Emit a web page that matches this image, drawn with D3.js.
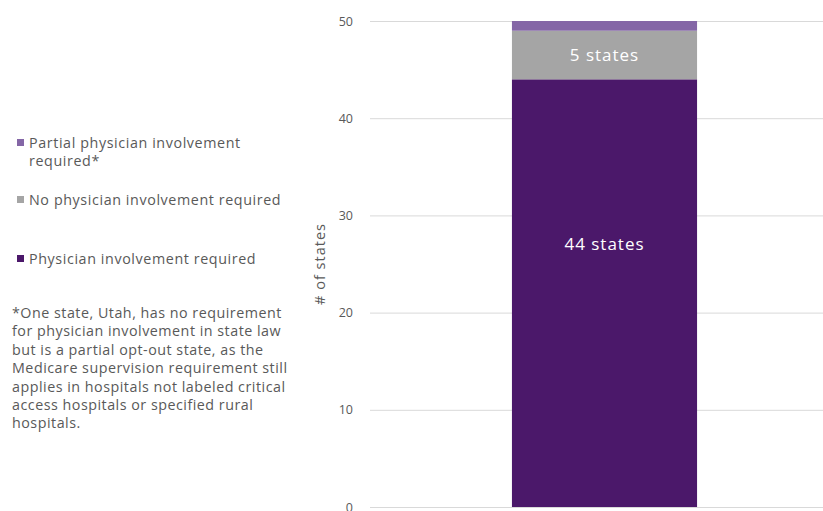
<!DOCTYPE html>
<html>
<head>
<meta charset="utf-8">
<script src="https://cdn.jsdelivr.net/npm/d3@7/dist/d3.min.js"></script>
<style>
  html, body { margin: 0; padding: 0; background: #fff; }
  svg { display: block; font-family: "Open Sans", Lato, sans-serif; }
</style>
</head>
<body>
<svg id="chart" width="823" height="511"></svg>
<script>
// Number of states by physician-involvement requirement (stacked, bottom to top)
const categories = ["All states"];
const seriesNames = ["Physician involvement required", "No physician involvement required", "Partial physician involvement required*"];
const seriesValues = [44, 5, 1];
const seriesLabels = ["44 states", "5 states", ""];
const seriesColors = ["#4b186a", "#a5a5a5", "#8466a6"];
const yTicks = [0, 10, 20, 30, 40, 50];
const legendOrder = [2, 1, 0];
const legendLines = [["Partial physician involvement", "required*"], ["No physician involvement required"], ["Physician involvement required"]];
const footnote = [
  "*One state, Utah, has no requirement",
  "for physician involvement in state law",
  "but is a partial opt-out state, as the",
  "Medicare supervision requirement still",
  "applies in hospitals not labeled critical",
  "access hospitals or specified rural",
  "hospitals."
];

const svg = d3.select("#chart");
const textColor = "#595959";

const y = d3.scaleLinear().domain([0, 50]).range([507, 21]);
const x = d3.scaleBand().domain(categories).range([370, 839]).paddingInner(0.434).paddingOuter(0.434);

// gridlines + tick labels
const yAxis = d3.axisLeft(y).tickValues(yTicks).tickSize(-(823 - 370)).tickPadding(17);
const gAxis = svg.append("g").attr("transform", "translate(370,0)").call(yAxis);
gAxis.select(".domain").remove();
gAxis.selectAll(".tick line").attr("stroke", "#d9d9d9").attr("stroke-width", 1);
gAxis.selectAll(".tick text").attr("fill", textColor).style("font-size", "12.5px").style("font-family", "\"Open Sans\", sans-serif");

// axis title
svg.append("text")
  .attr("transform", "translate(320,264) rotate(-90)")
  .attr("text-anchor", "middle")
  .attr("dy", "0.35em")
  .attr("fill", textColor)
  .style("font-size", "14.5px")
  .style("letter-spacing", "1px")
  .text("# of states");

// stacked segments
let stacked = [];
let acc = 0;
seriesValues.forEach((v, i) => { stacked.push({ i, y0: acc, y1: acc + v }); acc += v; });

const gBars = svg.append("g");
gBars.selectAll("rect")
  .data(stacked)
  .join("rect")
  .attr("x", x(categories[0]))
  .attr("width", x.bandwidth())
  .attr("y", d => y(d.y1))
  .attr("height", d => y(d.y0) - y(d.y1))
  .attr("fill", d => seriesColors[d.i]);

gBars.selectAll("text")
  .data(stacked.filter(d => seriesLabels[d.i]))
  .join("text")
  .attr("x", x(categories[0]) + x.bandwidth() / 2)
  .attr("y", d => d.i === 0 ? 244 : y((d.y0 + d.y1) / 2))
  .attr("dy", "0.35em")
  .attr("text-anchor", "middle")
  .attr("fill", "#ffffff")
  .style("font-size", "17px")
  .style("letter-spacing", "1px")
  .text(d => seriesLabels[d.i]);

// legend
const legendY = [143, 200, 259];
const gLeg = svg.append("g");
legendOrder.forEach((si, k) => {
  const ly = legendY[k];
  gLeg.append("rect")
    .attr("x", 17).attr("y", ly - 4).attr("width", 7).attr("height", 7)
    .attr("fill", seriesColors[si]);
  legendLines[k].forEach((line, j) => {
    gLeg.append("text")
      .attr("x", 29).attr("y", ly + j * 18)
      .attr("dy", "0.35em")
      .attr("fill", textColor)
      .style("font-size", "14.3px")
      .style("letter-spacing", "0.6px")
      .text(line);
  });
});

// footnote
svg.append("g").selectAll("text")
  .data(footnote)
  .join("text")
  .attr("x", 12)
  .attr("y", (d, i) => 313 + i * 18.4)
  .attr("dy", "0.35em")
  .attr("fill", textColor)
  .style("font-size", "14.3px")
  .style("letter-spacing", "0.5px")
  .text(d => d);
</script>
</body>
</html>
